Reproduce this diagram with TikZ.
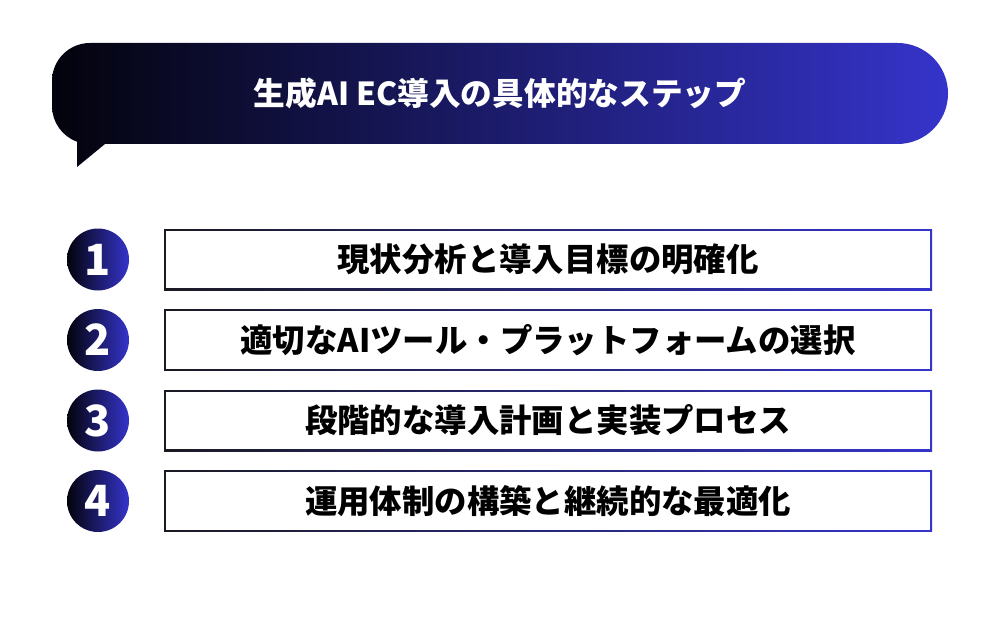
\documentclass[tikz,border=0pt]{standalone}
\usepackage{fontspec}
\setmainfont{Noto Sans CJK JP}
\definecolor{darkend}{HTML}{03030C}
\definecolor{blueend}{HTML}{3534CB}
\definecolor{lineend}{HTML}{1A1A22}

\begin{document}
\begin{tikzpicture}
	[
	x=1pt, y=1pt,
	align=center,
	numdot/.style={circle,minimum size=62pt,inner sep=0pt,left color=darkend,right color=blueend,
		text=white,font=\fontsize{43}{43}\selectfont\bfseries},
	stepbox/.style={rectangle,minimum width=768pt,minimum height=61pt,inner sep=0pt,
		left color=lineend,right color=blueend,text=black,font=\fontsize{32.4}{32.4}\selectfont\bfseries,
		path picture={\fill[white] ([shift={(1.6pt,1.6pt)}]path picture bounding box.south west)
			rectangle ([shift={(-1.6pt,-1.6pt)}]path picture bounding box.north east);}},
	title/.style={draw=none,fill=none,text=white,font=\fontsize{31.7}{31.7}\selectfont\bfseries}
	]
		\useasboundingbox (0,0) rectangle (1000,625);
		
		% bubble
		\shade[left color=darkend,right color=blueend]
			(105,481) -- (897.5,481) arc (-90:90:50.5) -- (90,582) arc (90:180:38)
			-- (52,519) arc (180:250:38) -- (77,458) -- cycle;
		\node[title] (head) at (500,531.5) {生成AI EC導入の具体的なステップ};
		
		% steps
		\foreach \n/\y/\txt in {1/365.5/現状分析と導入目標の明確化,
			2/285/適切なAIツール・プラットフォームの選択,
			3/204.5/段階的な導入計画と実装プロセス,
			4/124/運用体制の構築と継続的な最適化}
		{
			\node[numdot] (n\n) at (98,\y) {\n};
			\node[stepbox] (s\n) at (548,\y) {\txt};
		}
		
	\end{tikzpicture}
\end{document}
